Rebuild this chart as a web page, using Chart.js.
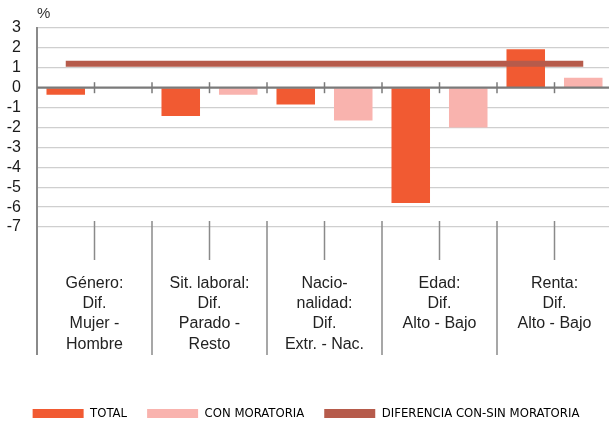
<!DOCTYPE html>
<html>
<head>
<meta charset="utf-8">
<script src="https://cdn.jsdelivr.net/npm/chart.js@4"></script>
<style>
  html, body { margin: 0; padding: 0; background: #fff; overflow: hidden; }
  #wrap { width: 609px; height: 424px; overflow: hidden; position: relative; }
  #wrap canvas { position: absolute; left: 0; top: 0; }
</style>
</head>
<body>
<div id="wrap"><canvas id="grafico" width="613" height="430" style="width:613px;height:430px"></canvas></div>
<script>
// categorías (eje inferior, multilínea)
const categorias = [
  ["Género:", "Dif.", "Mujer -", "Hombre"],
  ["Sit. laboral:", "Dif.", "Parado -", "Resto"],
  ["Nacio-", "nalidad:", "Dif.", "Extr. - Nac."],
  ["Edad:", "Dif.", "Alto - Bajo"],
  ["Renta:", "Dif.", "Alto - Bajo"]
];

// series (%)
const total = [-0.35, -1.42, -0.85, -5.8, 1.93];
const conMoratoria = [0, -0.35, -1.65, -2.0, 0.5];

// 10 sub-huecos (dos por categoría): TOTAL a la izquierda, CON MORATORIA a la derecha
const subHuecos = ["", "", "", "", "", "", "", "", "", ""];
const diferencia = [1.2, 1.2, 1.2, 1.2, 1.2, 1.2, 1.2, 1.2, 1.2, 1.2];

const Y_MIN = -7;
const Y_MAX = 3;

const NARANJA = "#f15a32";
const ROSA = "#f9b3ae";
const GRANATE = "#b65b4b";
const GRIS_EJE = "#8a8a8a";

// cada serie ocupa su propio sub-hueco
const totalHuecos = total.flatMap((v) => [v, null]);
const conHuecos = conMoratoria.flatMap((v) => [null, v]);

// líneas separadoras del eje de categorías y línea del cero
const separadores = {
  id: "separadores",
  afterDatasetsDraw(chart) {
    const { ctx, chartArea, scales } = chart;
    const x = scales.x, xc = scales.xcat, y = scales.y;
    const y0 = y.getPixelForValue(0);

    ctx.save();
    // línea del cero
    ctx.strokeStyle = "#7a7a7a";
    ctx.lineWidth = 2.3;
    ctx.beginPath();
    ctx.moveTo(chartArea.left, y0);
    ctx.lineTo(chartArea.right, y0);
    ctx.stroke();

    // marcas sobre el cero
    ctx.lineWidth = 1.5;
    for (let i = 0; i < subHuecos.length - 1; i++) {
      const px = (x.getPixelForValue(i) + x.getPixelForValue(i + 1)) / 2;
      ctx.beginPath();
      ctx.moveTo(px, y0 - 5.5);
      ctx.lineTo(px, y0 + 5.5);
      ctx.stroke();
    }

    // rejilla de la zona de etiquetas
    const arriba = chartArea.bottom - 6;
    const abajo = chartArea.bottom + 128;
    const mitad = (xc.getPixelForValue(1) - xc.getPixelForValue(0)) / 2;
    ctx.strokeStyle = GRIS_EJE;
    for (let i = 0; i <= categorias.length; i++) {
      const px = xc.getPixelForValue(i) - mitad;
      ctx.lineWidth = i === 0 ? 2 : 1.5;
      ctx.beginPath();
      ctx.moveTo(px, i === 0 ? chartArea.bottom : arriba);
      ctx.lineTo(px, abajo);
      ctx.stroke();
    }
    ctx.lineWidth = 1.5;
    for (let i = 0; i < categorias.length; i++) {
      const px = xc.getPixelForValue(i);
      ctx.beginPath();
      ctx.moveTo(px, arriba);
      ctx.lineTo(px, chartArea.bottom + 33);
      ctx.stroke();
    }
    ctx.restore();
  }
};

new Chart(document.getElementById("grafico"), {
  type: "bar",
  data: {
    labels: subHuecos,
    datasets: [
      {
        label: "TOTAL",
        data: totalHuecos,
        xAxisID: "x",
        backgroundColor: NARANJA,
        skipNull: true,
        categoryPercentage: 1,
        barPercentage: 0.67,
        order: 1
      },
      {
        label: "CON MORATORIA",
        data: conHuecos,
        xAxisID: "x",
        backgroundColor: ROSA,
        skipNull: true,
        categoryPercentage: 1,
        barPercentage: 0.67,
        order: 1
      },
      {
        type: "line",
        label: "DIFERENCIA CON-SIN MORATORIA",
        data: diferencia,
        xAxisID: "x",
        borderColor: GRANATE,
        backgroundColor: GRANATE,
        borderWidth: 6,
        borderCapStyle: "butt",
        pointRadius: 0,
        fill: false,
        order: 0
      }
    ]
  },
  options: {
    responsive: false,
    animation: false,
    layout: { padding: { left: 0, right: 1, top: 0, bottom: 0 } },
    plugins: {
      tooltip: { enabled: false },
      title: {
        display: true,
        text: "%",
        align: "start",
        fullSize: false,
        color: "#333",
        font: { family: "'Liberation Sans', Arial, sans-serif", size: 15, weight: "normal" },
        padding: { top: 5, bottom: 5 }
      },
      legend: {
        position: "bottom",
        labels: {
          boxWidth: 51,
          boxHeight: 9,
          padding: 20,
          color: "#444",
          font: { family: "'Liberation Sans Narrow', 'DejaVu Sans Condensed', sans-serif", size: 13 },
          generateLabels: (chart) =>
            chart.data.datasets.map((ds, i) => ({
              text: ds.label,
              fillStyle: ds.backgroundColor,
              strokeStyle: ds.backgroundColor,
              lineWidth: 0,
              hidden: false,
              datasetIndex: i
            }))
        }
      }
    },
    scales: {
      x: {
        type: "category",
        offset: true,
        display: false
      },
      xcat: {
        type: "category",
        position: "bottom",
        labels: categorias,
        offset: true,
        grid: { display: true, drawOnChartArea: false, drawTicks: true, tickLength: 46, color: "rgba(0,0,0,0)" },
        border: { display: false },
        ticks: {
          padding: 0,
          maxRotation: 0,
          autoSkip: false,
          color: "#222",
          font: { family: "'Liberation Sans', Arial, sans-serif", size: 16, lineHeight: 1.27 }
        },
        afterFit: (s) => { s.height = 160; }
      },
      y: {
        min: Y_MIN,
        max: Y_MAX,
        ticks: {
          stepSize: 1,
          autoSkip: false,
          padding: 16,
          color: "#1a1a1a",
          font: { family: "'Liberation Sans', Arial, sans-serif", size: 16 }
        },
        grid: {
          drawTicks: false,
          color: (c) => (c.tick && c.tick.value === 0 ? "rgba(0,0,0,0)" : "#cfcfcf"),
          lineWidth: 1.3
        },
        border: { display: true, color: GRIS_EJE, width: 2 },
        afterFit: (s) => { s.width = 37; }
      }
    }
  },
  plugins: [separadores]
});
</script>
</body>
</html>
